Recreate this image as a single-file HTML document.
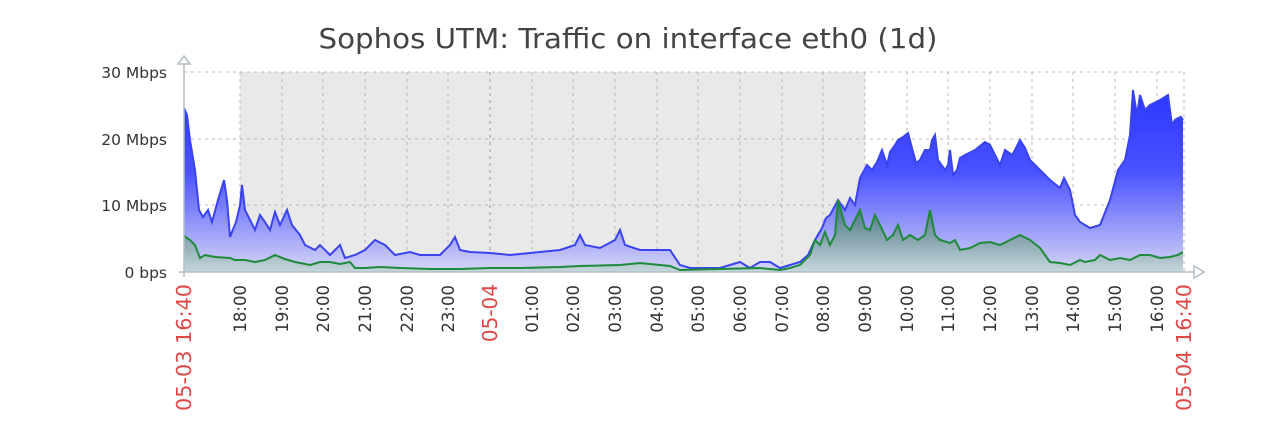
<!DOCTYPE html>
<html><head><meta charset="utf-8"><style>
html,body{margin:0;padding:0;background:#fff;}
svg{display:block;font-family:"DejaVu Sans","Liberation Sans",sans-serif;}
</style></head><body>
<svg width="1262" height="432" viewBox="0 0 1262 432" xmlns="http://www.w3.org/2000/svg">
<defs>
<linearGradient id="gb" x1="0" y1="0" x2="0" y2="1" gradientUnits="objectBoundingBox">
<stop offset="0" stop-color="#2a36ff"/><stop offset="0.45" stop-color="#4a52ff"/><stop offset="1" stop-color="#d6d6f6"/></linearGradient>
<linearGradient id="gg" x1="0" y1="0" x2="0" y2="1">
<stop offset="0" stop-color="#3a6a78"/><stop offset="1" stop-color="#c6d6dc"/></linearGradient>
</defs>
<rect x="240" y="72" width="625" height="200" fill="#e9e9e9"/>
<g stroke="#b8b8b8" stroke-dasharray="3,4" stroke-width="1" fill="none">
<line x1="184" y1="72" x2="1184" y2="72"/><line x1="184" y1="139" x2="1184" y2="139"/><line x1="184" y1="205" x2="1184" y2="205"/>
<line x1="240" y1="72" x2="240" y2="272"/><line x1="282" y1="72" x2="282" y2="272"/><line x1="323" y1="72" x2="323" y2="272"/><line x1="365" y1="72" x2="365" y2="272"/><line x1="407" y1="72" x2="407" y2="272"/><line x1="448" y1="72" x2="448" y2="272"/><line x1="490" y1="72" x2="490" y2="272" stroke="#999"/><line x1="532" y1="72" x2="532" y2="272"/><line x1="573" y1="72" x2="573" y2="272"/><line x1="615" y1="72" x2="615" y2="272"/><line x1="657" y1="72" x2="657" y2="272"/><line x1="698" y1="72" x2="698" y2="272"/><line x1="740" y1="72" x2="740" y2="272"/><line x1="782" y1="72" x2="782" y2="272"/><line x1="823" y1="72" x2="823" y2="272"/><line x1="865" y1="72" x2="865" y2="272"/><line x1="907" y1="72" x2="907" y2="272"/><line x1="948" y1="72" x2="948" y2="272"/><line x1="990" y1="72" x2="990" y2="272"/><line x1="1032" y1="72" x2="1032" y2="272"/><line x1="1073" y1="72" x2="1073" y2="272"/><line x1="1115" y1="72" x2="1115" y2="272"/><line x1="1157" y1="72" x2="1157" y2="272"/><line x1="1184" y1="72" x2="1184" y2="272"/>
</g>
<polygon fill="url(#gb)" points="184,272 184,108 187,115 190,140 195,170 199,210 203,217 208,210 212,222 218,200 224,180 227,200 230,237 236,222 240,205 242,185 245,210 250,220 255,230 260,215 265,222 270,230 275,212 280,225 287,210 292,225 300,235 305,245 315,250 320,245 330,255 340,245 345,258 355,255 365,250 375,240 385,245 395,255 410,252 420,255 440,255 450,245 455,237 460,250 470,252 490,253 510,255 530,253 560,250 575,245 580,235 585,245 600,248 615,240 620,230 625,245 640,250 660,250 670,250 680,265 690,268 700,268 720,268 730,265 740,262 750,268 760,262 770,262 780,268 790,265 800,262 808,255 815,240 822,228 826,218 830,215 838,200 845,210 850,198 855,205 860,178 867,165 872,170 877,162 882,150 887,165 890,152 895,145 898,140 903,137 908,133 912,148 916,163 920,160 925,150 930,150 932,140 935,135 938,160 945,170 948,165 950,150 953,175 957,170 960,158 965,155 975,150 985,142 990,145 995,155 1000,165 1005,150 1012,155 1015,150 1020,140 1025,148 1030,160 1040,170 1050,180 1060,188 1064,178 1070,190 1075,215 1080,222 1090,228 1100,225 1110,200 1118,170 1125,160 1130,135 1133,90 1137,115 1140,95 1145,110 1150,105 1160,100 1168,95 1172,125 1175,120 1178,118 1181,117 1183,120 1183,272"/>
<polyline fill="none" stroke="#3a44ee" stroke-width="2" points="184,108 187,115 190,140 195,170 199,210 203,217 208,210 212,222 218,200 224,180 227,200 230,237 236,222 240,205 242,185 245,210 250,220 255,230 260,215 265,222 270,230 275,212 280,225 287,210 292,225 300,235 305,245 315,250 320,245 330,255 340,245 345,258 355,255 365,250 375,240 385,245 395,255 410,252 420,255 440,255 450,245 455,237 460,250 470,252 490,253 510,255 530,253 560,250 575,245 580,235 585,245 600,248 615,240 620,230 625,245 640,250 660,250 670,250 680,265 690,268 700,268 720,268 730,265 740,262 750,268 760,262 770,262 780,268 790,265 800,262 808,255 815,240 822,228 826,218 830,215 838,200 845,210 850,198 855,205 860,178 867,165 872,170 877,162 882,150 887,165 890,152 895,145 898,140 903,137 908,133 912,148 916,163 920,160 925,150 930,150 932,140 935,135 938,160 945,170 948,165 950,150 953,175 957,170 960,158 965,155 975,150 985,142 990,145 995,155 1000,165 1005,150 1012,155 1015,150 1020,140 1025,148 1030,160 1040,170 1050,180 1060,188 1064,178 1070,190 1075,215 1080,222 1090,228 1100,225 1110,200 1118,170 1125,160 1130,135 1133,90 1137,115 1140,95 1145,110 1150,105 1160,100 1168,95 1172,125 1175,120 1178,118 1181,117 1183,120"/>
<polygon fill="url(#gg)" points="184,272 184,236 190,240 195,245 200,258 205,255 215,257 230,258 235,260 245,260 255,262 265,260 275,255 285,259 295,262 310,265 320,262 330,262 340,264 350,262 355,268 365,268 380,267 400,268 430,269 460,269 490,268 520,268 560,267 580,266 620,265 640,263 670,266 680,270 720,269 760,268 780,270 790,268 800,265 810,255 815,240 820,245 825,232 830,245 835,235 838,200 845,225 850,230 855,220 860,210 865,228 870,230 875,215 880,225 887,240 893,235 898,225 903,240 910,235 918,240 925,235 930,210 935,235 940,240 950,243 955,240 960,250 970,248 980,243 990,242 1000,245 1010,240 1020,235 1030,240 1040,248 1050,262 1060,263 1070,265 1080,260 1085,262 1095,260 1100,255 1110,260 1120,258 1130,260 1140,255 1150,255 1160,258 1170,257 1178,255 1183,252 1183,272"/>
<polyline fill="none" stroke="#1e8a3a" stroke-width="2" points="184,236 190,240 195,245 200,258 205,255 215,257 230,258 235,260 245,260 255,262 265,260 275,255 285,259 295,262 310,265 320,262 330,262 340,264 350,262 355,268 365,268 380,267 400,268 430,269 460,269 490,268 520,268 560,267 580,266 620,265 640,263 670,266 680,270 720,269 760,268 780,270 790,268 800,265 810,255 815,240 820,245 825,232 830,245 835,235 838,200 845,225 850,230 855,220 860,210 865,228 870,230 875,215 880,225 887,240 893,235 898,225 903,240 910,235 918,240 925,235 930,210 935,235 940,240 950,243 955,240 960,250 970,248 980,243 990,242 1000,245 1010,240 1020,235 1030,240 1040,248 1050,262 1060,263 1070,265 1080,260 1085,262 1095,260 1100,255 1110,260 1120,258 1130,260 1140,255 1150,255 1160,258 1170,257 1178,255 1183,252"/>
<g stroke="#b0bec5" stroke-width="1.5" fill="none">
<line x1="184" y1="62" x2="184" y2="277"/><line x1="179" y1="272" x2="1196" y2="272"/>
<polygon points="178,64 184,56 190,64" fill="#fff"/><polygon points="1194,266 1204,272 1194,278" fill="#fff"/>
</g>
<text x="628" y="48" text-anchor="middle" font-size="28" fill="#444" textLength="619" lengthAdjust="spacingAndGlyphs">Sophos UTM: Traffic on interface eth0 (1d)</text>
<g font-size="15.5" fill="#333" text-anchor="end">
<text x="167" y="78">30 Mbps</text><text x="167" y="145">20 Mbps</text><text x="167" y="211">10 Mbps</text><text x="167" y="278">0 bps</text>
</g>
<g font-size="16.5" fill="#333" text-anchor="end">
<text transform="translate(246,285) rotate(-90)">18:00</text><text transform="translate(288,285) rotate(-90)">19:00</text><text transform="translate(329,285) rotate(-90)">20:00</text><text transform="translate(371,285) rotate(-90)">21:00</text><text transform="translate(413,285) rotate(-90)">22:00</text><text transform="translate(454,285) rotate(-90)">23:00</text><text transform="translate(538,285) rotate(-90)">01:00</text><text transform="translate(579,285) rotate(-90)">02:00</text><text transform="translate(621,285) rotate(-90)">03:00</text><text transform="translate(663,285) rotate(-90)">04:00</text><text transform="translate(704,285) rotate(-90)">05:00</text><text transform="translate(746,285) rotate(-90)">06:00</text><text transform="translate(788,285) rotate(-90)">07:00</text><text transform="translate(829,285) rotate(-90)">08:00</text><text transform="translate(871,285) rotate(-90)">09:00</text><text transform="translate(913,285) rotate(-90)">10:00</text><text transform="translate(954,285) rotate(-90)">11:00</text><text transform="translate(996,285) rotate(-90)">12:00</text><text transform="translate(1038,285) rotate(-90)">13:00</text><text transform="translate(1079,285) rotate(-90)">14:00</text><text transform="translate(1121,285) rotate(-90)">15:00</text><text transform="translate(1163,285) rotate(-90)">16:00</text>
</g>
<g font-size="20" fill="#e04848" text-anchor="end">
<text transform="translate(191,284) rotate(-90)" textLength="127" lengthAdjust="spacingAndGlyphs">05-03 16:40</text>
<text transform="translate(497,284) rotate(-90)">05-04</text>
<text transform="translate(1191,284) rotate(-90)" textLength="127" lengthAdjust="spacingAndGlyphs">05-04 16:40</text>
</g>
</svg>
</body></html>
